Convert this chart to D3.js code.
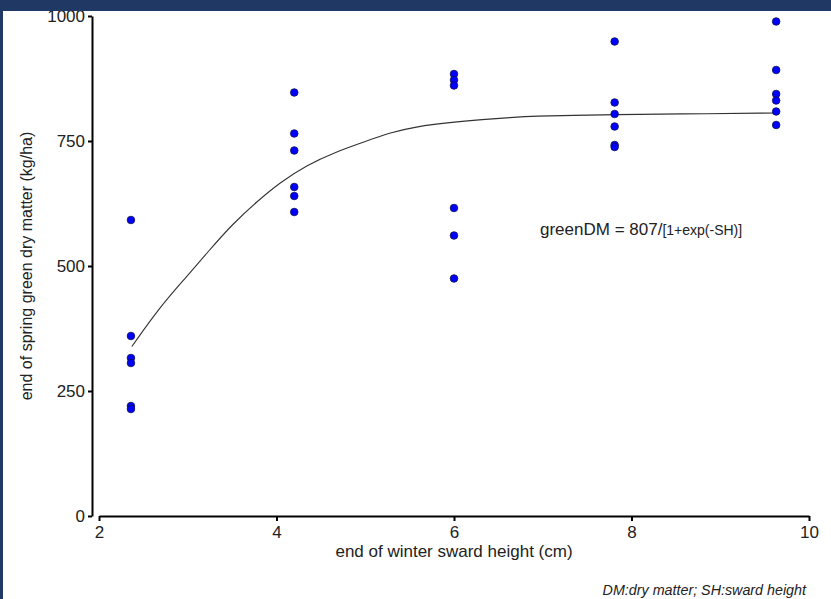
<!DOCTYPE html>
<html>
<head>
<meta charset="utf-8">
<script src="https://cdn.jsdelivr.net/npm/d3@7"></script>
<style>
  html, body { margin: 0; padding: 0; background: #fff; }
  svg { display: block; font-family: "Liberation Sans", Arial, sans-serif; }
</style>
</head>
<body>
<svg id="chart"></svg>
<script>
const width = 831;
const height = 599;

// observed points (sward height cm, green DM kg/ha)
const heights = [2.36, 2.36, 2.36, 2.36, 2.36, 2.36,
    4.2, 4.2, 4.2, 4.2, 4.2, 4.2,
    6.0, 6.0, 6.0, 6.0, 6.0, 6.0,
    7.81, 7.81, 7.81, 7.81, 7.81, 7.81,
    9.63, 9.63, 9.63, 9.63, 9.63, 9.63];
const greenDM = [592, 360, 316, 306, 220, 214,
    847, 765, 731, 658, 640, 608,
    884, 872, 861, 616, 561, 475,
    949, 827, 804, 779, 742, 738,
    989, 892, 844, 831, 809, 782];

// fitted curve
const curveX = [2.37, 2.69, 2.99, 3.23, 3.51, 3.78, 4.04, 4.34, 4.68, 4.94, 5.28, 5.58, 5.95, 6.33, 6.63, 6.93, 7.34, 7.8, 8.5, 9.63];
const curveY = [339, 419, 479, 529, 585, 629, 667, 702, 729, 745, 767, 779, 787, 793, 797, 800, 801, 803, 804, 806];

const xTicks = [2, 4, 6, 8, 10];
const yTicks = [0, 250, 500, 750, 1000];

const svg = d3.select('#chart')
    .attr('width', width)
    .attr('height', height);

const x = d3.scaleLinear().domain([2, 10]).range([99, 809]);
const y = d3.scaleLinear().domain([0, 1000]).range([516, 16]);

const xAxis = svg.append('g')
    .attr('transform', 'translate(0, 516)')
    .call(d3.axisBottom(x).tickValues(xTicks).tickFormat(d3.format('d'))
        .tickSize(5).tickSizeOuter(0).tickPadding(5));

const yAxis = svg.append('g')
    .attr('transform', 'translate(92, 0)')
    .call(d3.axisLeft(y).tickValues(yTicks).tickFormat(d3.format('d'))
        .tickSize(4).tickSizeOuter(0).tickPadding(3));

[xAxis, yAxis].forEach(a => {
    a.select('.domain').attr('stroke', '#000').attr('stroke-width', 2);
    a.selectAll('.tick line').attr('stroke', '#000').attr('stroke-width', 2);
    a.selectAll('.tick text')
        .attr('fill', '#222')
        .style('font-size', '17px')
        .style('font-family', '"Liberation Sans", Arial, sans-serif');
});

const pts = heights.map((h, i) => ({h: h, dm: greenDM[i]}));
const curve = curveX.map((h, i) => ({h: h, dm: curveY[i]}));

svg.append('path')
    .datum(curve)
    .attr('fill', 'none')
    .attr('stroke', '#333')
    .attr('stroke-width', 1.1)
    .attr('d', d3.line()
        .x(d => x(d.h))
        .y(d => y(d.dm))
        .curve(d3.curveBasis));

svg.selectAll('circle.pt').data(pts)
    .enter()
    .append('circle')
    .attr('class', 'pt')
    .attr('cx', d => x(d.h))
    .attr('cy', d => y(d.dm))
    .attr('r', 3.8)
    .attr('fill', '#0000ff')
    .attr('stroke', '#10104a')
    .attr('stroke-width', 0.8);

// titles
svg.append('text')
    .attr('x', 454)
    .attr('y', 557)
    .attr('text-anchor', 'middle')
    .attr('fill', '#222')
    .style('font-size', '17px')
    .text('end of winter sward height (cm)');

svg.append('text')
    .attr('transform', 'translate(32, 266) rotate(-90)')
    .attr('text-anchor', 'middle')
    .attr('fill', '#222')
    .style('font-size', '16px')
    .text('end of spring green dry matter (kg/ha)');

const eq = svg.append('text')
    .attr('x', 540)
    .attr('y', 235)
    .attr('fill', '#222')
    .style('font-size', '17px');
eq.append('tspan').text('greenDM = 807/');
eq.append('tspan').style('font-size', '14px').text('[1+exp(-SH)]');

svg.append('text')
    .attr('x', 806)
    .attr('y', 595)
    .attr('text-anchor', 'end')
    .attr('fill', '#222')
    .style('font-size', '14.3px')
    .style('font-style', 'italic')
    .text('DM:dry matter; SH:sward height');

// slide frame
svg.append('rect').attr('x', 0).attr('y', 0).attr('width', width).attr('height', 11).attr('fill', '#1f3864');
svg.append('rect').attr('x', 0).attr('y', 0).attr('width', 3).attr('height', height).attr('fill', '#1f3864');
</script>
</body>
</html>
